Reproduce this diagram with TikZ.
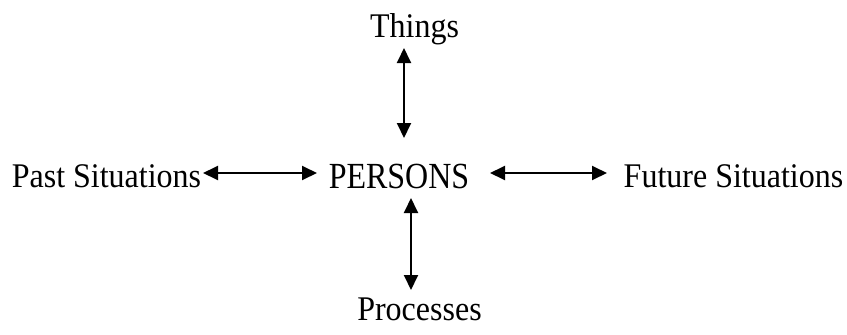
\documentclass[tikz,border=0pt]{standalone}
\usepackage{fontspec}
\setmainfont{Liberation Serif}
\usetikzlibrary{arrows.meta}
\tikzset{
  lbl/.style={inner sep=0pt, anchor=base, font=\fontsize{32}{38}\selectfont},
  dbl/.style={{Triangle[length=15pt,width=14pt]}-{Triangle[length=15pt,width=14pt]}, line width=1.9pt}
}
\newcommand{\tallt}[1]{\scalebox{1}[1.08]{#1}}
\begin{document}
\begin{tikzpicture}[x=1pt,y=-1pt]
\useasboundingbox (0,0) rectangle (847,335);
\node[lbl] (things) at (414.5,37) {\tallt{Things}};
\node[lbl] (persons) at (399,188) {\scalebox{1}[1.15]{PERSONS}};
\node[lbl] (past) at (106.5,187) {\tallt{Past Situations}};
\node[lbl] (future) at (733.5,187) {\tallt{Future Situations}};
\node[lbl] (proc) at (419.5,320) {\tallt{Processes}};
\coordinate (t1) at (404,48);
\coordinate (t2) at (404,138);
\coordinate (b1) at (411,198);
\coordinate (b2) at (411,290);
\coordinate (l1) at (203,173);
\coordinate (l2) at (317,173);
\coordinate (r1) at (490,173);
\coordinate (r2) at (607,173);
\draw[dbl] (t1) -- (t2);
\draw[dbl] (b1) -- (b2);
\draw[dbl] (l1) -- (l2);
\draw[dbl] (r1) -- (r2);
\end{tikzpicture}
\end{document}
